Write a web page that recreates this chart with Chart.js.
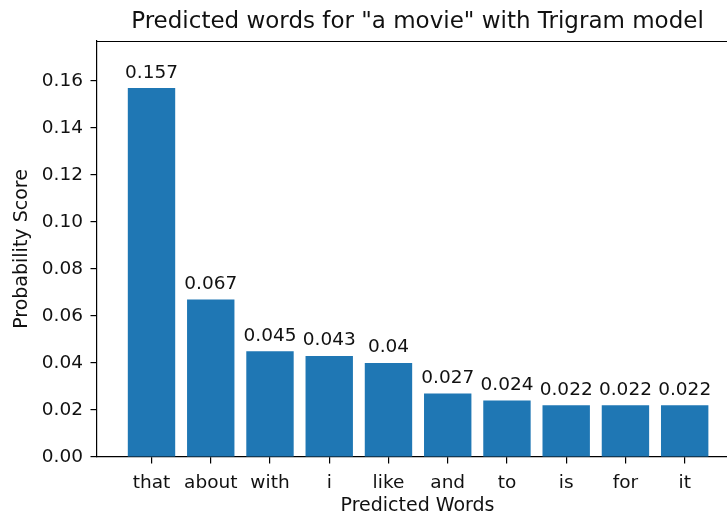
<!DOCTYPE html>
<html>
<head>
<meta charset="utf-8">
<script src="https://cdn.jsdelivr.net/npm/chart.js@4.4.1/dist/chart.umd.min.js"></script>
<style>
  html, body { margin: 0; padding: 0; overflow: hidden; background: #fff; width: 727px; height: 515px; }
  #wrap { width: 740px; height: 515px; }
</style>
</head>
<body>
<div id="wrap"><canvas id="c" width="740" height="515"></canvas></div>
<script>
const categories = ["that", "about", "with", "i", "like", "and", "to", "is", "for", "it"];
const probabilities = [0.157, 0.067, 0.045, 0.043, 0.04, 0.027, 0.024, 0.022, 0.022, 0.022];
const valueLabels = ["0.157", "0.067", "0.045", "0.043", "0.04", "0.027", "0.024", "0.022", "0.022", "0.022"];
const yTicks = [0.00, 0.02, 0.04, 0.06, 0.08, 0.10, 0.12, 0.14, 0.16];
const yMin = 0, yMax = 0.177;
const xMin = -0.92, xMax = 9.9;

const FONT = "'DejaVu Sans', sans-serif";
const TICK_SIZE = 18.5;
const LABEL_SIZE = 19;
const TITLE_SIZE = 23;
const TEXT_COLOR = '#111';

const topSpine = {
  id: 'topSpine',
  afterDraw(chart) {
    const {ctx, chartArea} = chart;
    ctx.save();
    ctx.strokeStyle = '#000';
    ctx.lineWidth = 1.2;
    ctx.beginPath();
    ctx.moveTo(chartArea.left, chartArea.top + 0.5);
    ctx.lineTo(chartArea.right, chartArea.top + 0.5);
    ctx.stroke();
    ctx.restore();
  }
};

const barValueLabels = {
  id: 'barValueLabels',
  afterDatasetsDraw(chart) {
    const {ctx} = chart;
    const meta = chart.getDatasetMeta(0);
    ctx.save();
    ctx.fillStyle = TEXT_COLOR;
    ctx.font = TICK_SIZE + 'px ' + FONT;
    ctx.textAlign = 'center';
    ctx.textBaseline = 'alphabetic';
    meta.data.forEach((bar, i) => {
      ctx.fillText(valueLabels[i], bar.x, bar.y - 10.5);
    });
    ctx.restore();
  }
};

new Chart(document.getElementById('c'), {
  type: 'bar',
  data: {
    labels: categories,
    datasets: [{
      data: probabilities,
      backgroundColor: '#1f77b4',
      borderWidth: 0,
      barPercentage: 0.8,
      categoryPercentage: 1.0
    }]
  },
  options: {
    responsive: false,
    animation: false,
    layout: { padding: { left: 0, right: 2, top: 0, bottom: 0 } },
    plugins: {
      legend: { display: false },
      tooltip: { enabled: false },
      title: {
        display: true,
        text: 'Predicted words for "a movie" with Trigram model',
        fullSize: false,
        color: TEXT_COLOR,
        font: { family: FONT, size: TITLE_SIZE, weight: 'normal', lineHeight: 1.2 },
        padding: { top: 8.4, bottom: 5 }
      }
    },
    scales: {
      x: {
        type: 'category',
        offset: true,
        afterBuildTicks(scale) {
          scale._startValue = xMin;
          scale._valueRange = xMax - xMin;
        },
        afterFit(scale) { scale.height = 58; },
        border: { display: true, color: '#000', width: 1.2 },
        grid: { display: true, drawOnChartArea: false, drawTicks: true, tickLength: 6.5, color: '#000', lineWidth: 1.2, offset: false },
        ticks: { color: TEXT_COLOR, font: { family: FONT, size: TICK_SIZE }, padding: 8.8, maxRotation: 0, autoSkip: false },
        title: { display: true, text: 'Predicted Words', color: TEXT_COLOR, font: { family: FONT, size: LABEL_SIZE, lineHeight: 0.8 }, padding: { top: 0, bottom: 1 } }
      },
      y: {
        min: yMin,
        max: yMax,
        afterBuildTicks(scale) {
          scale.ticks = yTicks.map(v => ({ value: v }));
        },
        afterFit(scale) { scale.width = 97; },
        border: { display: true, color: '#000', width: 1.2 },
        grid: { display: true, drawOnChartArea: false, drawTicks: true, tickLength: 6.5, color: '#000', lineWidth: 1.2 },
        ticks: {
          color: TEXT_COLOR,
          font: { family: FONT, size: TICK_SIZE },
          padding: 7.5,
          callback: (v) => Number(v).toFixed(2)
        },
        title: { display: true, text: 'Probability Score', color: TEXT_COLOR, font: { family: FONT, size: LABEL_SIZE }, padding: { top: 10.5, bottom: 0 } }
      }
    }
  },
  plugins: [topSpine, barValueLabels]
});
</script>
</body>
</html>
